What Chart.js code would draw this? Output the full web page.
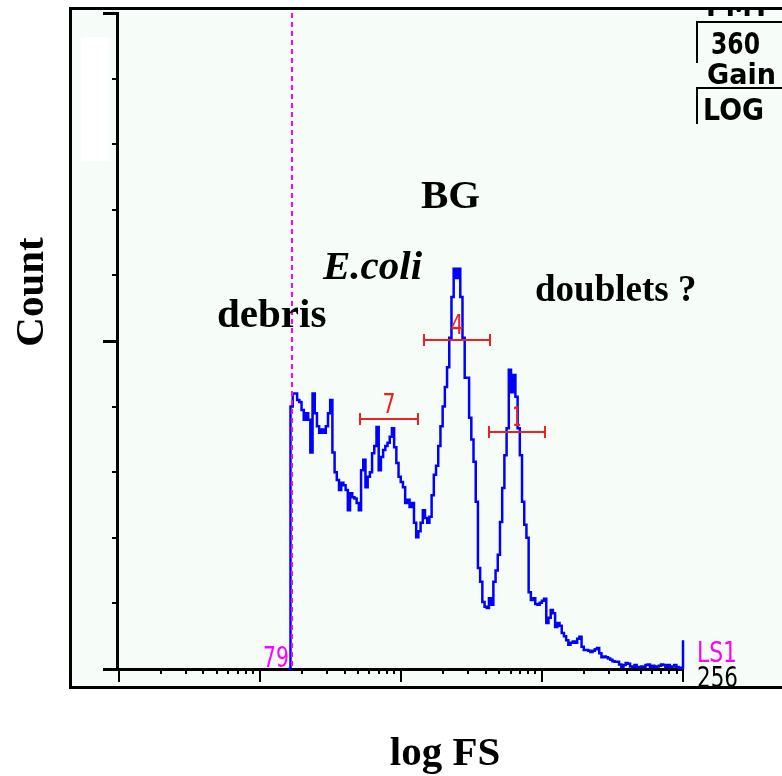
<!DOCTYPE html>
<html><head><meta charset="utf-8">
<script src="https://cdn.jsdelivr.net/npm/chart.js@4.4.1/dist/chart.umd.min.js"></script>
<style>html,body{margin:0;padding:0;background:#fff;}#wrap{width:782px;height:776px;position:relative;overflow:hidden;}</style>
</head><body><div id="wrap"><canvas id="c" width="782" height="776"></canvas></div>
<script>
// ---- data (log FS channel 0..256, relative count) ----
const channels = [77,78,79,80,81,82,83,84,85,86,87,88,89,90,91,92,93,94,95,96,97,98,99,100,
101,102,103,104,105,106,107,108,109,110,111,112,113,114,115,116,117,118,119,120,
121,122,123,124,125,126,127,128,129,130,131,132,133,134,135,136,137,138,139,140,
141,142,143,144,145,146,147,148,149,150,151,152,153,154,155,156,157,158,159,160,
161,162,163,164,165,166,167,168,169,170,171,172,173,174,175,176,177,178,179,180,
181,182,183,184,185,186,187,188,189,190,191,192,193,194,195,196,197,198,199,200,
201,202,203,204,205,206,207,208,209,210,211,212,213,214,215,216,217,218,219,220,
221,222,223,224,225,226,227,228,229,230,231,232,233,234,235,236,237,238,239,240,
241,242,243,244,245,246,247,248,249,250,251,252,253,254,255,256];
const counts = [0,40,42,42,41,40.7,39.5,38,39,38,33,42,39,37,36,36.5,36,37,39,41,33,30,28.8,27.3,
28.4,28,27.3,24.2,26.8,26.2,26,25.3,24.2,30.3,31.9,27.7,29.3,30,32.9,34,36.9,30.3,32.3,33.4,
34,34.5,35.4,36.7,33.8,31.4,29.3,28.5,27.7,25.3,25.8,24.7,25.3,22.3,20.1,21,22.3,24.2,23,22.3,
23.2,26.5,29.6,31,34,37,40,43,46,50.5,56.7,61,59.6,61,56.7,50.5,44.4,44.4,38.3,35,
31.6,25.5,15.4,13.3,10.2,9.5,9.3,10.8,9.8,13.3,15,17.4,22.4,27.6,32.6,36.7,45.6,42.2,44.8,41.5,
36.7,32.6,25.5,22,20,11.7,10.5,10.8,9.9,9.8,10.1,10.4,10.7,7,7.8,9,8.5,6.4,7,6.6,
5.5,5,4.4,3.7,4,4.2,4,4.6,4.9,3.4,2.9,2.9,2.8,2.6,2.8,3,3.2,2.4,1.8,1.9,
1.8,1.6,1.4,1.2,1.1,1.1,0.7,0.3,0.6,0.9,0.8,0.4,0.3,0.6,0.3,0.3,0.4,0.3,0.6,0.7,
0.3,0.5,0.3,0.4,0.5,0.7,0.6,0.3,0.6,0.3,0.4,0.6,0.3,0.15,0.2,4.4];
// region gates (channel range, level) and their labels
const gateStart = [109.5, 138.5, 168];
const gateEnd   = [135.8, 168.5, 193.4];
const gateLevel = [38.1, 50.2, 36.1];
const gateLabels = ['7', '4', '1'];
// cursor
const cursorChannel = 79;
const cursorLabel = '79';
// axes ticks
const xDecades = [0, 64, 128, 192, 256];
const xMinorFactors = [2,3,4,5,6,7,8,9];
const yTicks = [0,10,20,30,40,50,60,70,80,90,100];
const yMajor = [0,50,100];
// text
const peakLabels = ['BG', 'E.coli', 'debris', 'doublets ?'];
const xTitle = 'log FS';
const yTitle = 'Count';
const infoTexts = ['PMT', '360', 'Gain', 'LOG'];
const rangeLabel = 'LS1';
const maxLabel = '256';

function fitText(ctx, text, x, baseline, width, font, align) {
  ctx.save();
  ctx.font = font;
  const w = ctx.measureText(text).width;
  const s = width / w;
  ctx.translate(x, baseline);
  ctx.scale(s, 1);
  ctx.textAlign = 'left';
  ctx.textBaseline = 'alphabetic';
  let ox = 0;
  if (align === 'center') ox = -w / 2;
  else if (align === 'right') ox = -w;
  ctx.fillText(text, ox, 0);
  ctx.restore();
}

const framePlugin = {
  id: 'frame',
  beforeDraw(chart) {
    const ctx = chart.ctx;
    const xs = chart.scales.x, ys = chart.scales.y;
    ctx.save();
    ctx.fillStyle = '#ffffff';
    ctx.fillRect(0, 0, 782, 776);
    ctx.fillStyle = '#f6fcf7';
    ctx.fillRect(71, 9, 720, 678);
    ctx.fillStyle = '#ffffff';
    ctx.fillRect(81, 37, 28, 124);
    ctx.strokeStyle = '#000';
    ctx.lineWidth = 3;
    ctx.strokeRect(70.5, 8.5, 800, 679);
    // y axis
    ctx.fillStyle = '#000';
    ctx.fillRect(116, 12, 3, 659);
    yTicks.forEach(v => {
      const py = Math.round(ys.getPixelForValue(v));
      if (yMajor.includes(v)) ctx.fillRect(103, py - 1, 14, 3);
      else ctx.fillRect(112, py - 1, 5, 2);
    });
    // x axis
    ctx.fillRect(103, 668, 581, 3);
    xDecades.forEach((d, i) => {
      const px = xs.getPixelForValue(d);
      ctx.fillRect(Math.round(px) - 1, 669, 2, 13);
      if (i < xDecades.length - 1) {
        xMinorFactors.forEach(k => {
          const p = xs.getPixelForValue(d + (xDecades[i+1]-d) * Math.log10(k));
          ctx.fillRect(Math.round(p) - 1, 669, 2, 5);
        });
      }
    });
    ctx.restore();
  },
  afterDatasetsDraw(chart) {
    const ctx = chart.ctx;
    const xs = chart.scales.x, ys = chart.scales.y;
    ctx.save();
    // cursor
    const cx = Math.round(xs.getPixelForValue(cursorChannel)) - 1;
    ctx.strokeStyle = '#ff00ff';
    ctx.lineWidth = 2;
    ctx.setLineDash([5, 4]);
    ctx.beginPath();
    ctx.moveTo(cx, ys.getPixelForValue(100));
    ctx.lineTo(cx, ys.getPixelForValue(0));
    ctx.stroke();
    ctx.setLineDash([]);
    ctx.fillStyle = '#ff00ff';
    fitText(ctx, cursorLabel, cx - 3, 667, 26, '29px "DejaVu Sans"', 'right');
    // gates
    ctx.strokeStyle = '#f02020';
    ctx.fillStyle = '#f02020';
    ctx.lineWidth = 2;
    gateStart.forEach((s, i) => {
      const x1 = Math.round(xs.getPixelForValue(s)), x2 = Math.round(xs.getPixelForValue(gateEnd[i]));
      const y = Math.round(ys.getPixelForValue(gateLevel[i]));
      ctx.beginPath();
      ctx.moveTo(x1, y); ctx.lineTo(x2, y);
      ctx.moveTo(x1, y - 6); ctx.lineTo(x1, y + 6);
      ctx.moveTo(x2, y - 6); ctx.lineTo(x2, y + 6);
      ctx.stroke();
      const w = gateLabels[i] === '1' ? 9 : 13;
      fitText(ctx, gateLabels[i], (x1 + x2) / 2, y - 6, w, '27px "DejaVu Sans"', 'center');
    });
    // right labels
    ctx.fillStyle = '#ff00ff';
    fitText(ctx, rangeLabel, 697, 662, 40, '29px "DejaVu Sans"', 'left');
    ctx.fillStyle = '#000';
    fitText(ctx, maxLabel, 697, 687, 41, '29px "DejaVu Sans"', 'left');
    // info box
    ctx.fillStyle = '#000';
    ctx.save();
    ctx.beginPath(); ctx.rect(0, 10, 782, 20); ctx.clip();
    fitText(ctx, infoTexts[0], 706, 16, 64, 'bold 28px "DejaVu Sans"', 'left');
    ctx.restore();
    ctx.fillRect(696, 21, 86, 2);
    ctx.fillRect(696, 21, 2, 42);
    fitText(ctx, infoTexts[1], 711, 54, 49, 'bold 30px "DejaVu Sans"', 'left');
    fitText(ctx, infoTexts[2], 707, 84, 69, 'bold 29px "DejaVu Sans"', 'left');
    ctx.fillRect(696, 87, 86, 2);
    ctx.fillRect(696, 87, 2, 37);
    fitText(ctx, infoTexts[3], 703, 120, 61, 'bold 30px "DejaVu Sans"', 'left');
    // annotations
    ctx.fillStyle = '#000';
    ctx.textBaseline = 'alphabetic';
    ctx.textAlign = 'left';
    ctx.font = 'bold 41px "Liberation Serif"';
    ctx.fillText(peakLabels[0], 421, 208);
    ctx.font = 'italic bold 41px "Liberation Serif"';
    ctx.fillText(peakLabels[1], 323, 279);
    ctx.font = 'bold 41px "Liberation Serif"';
    ctx.fillText(peakLabels[2], 217, 327);
    ctx.font = 'bold 37px "Liberation Serif"';
    ctx.fillText(peakLabels[3], 535, 301);
    ctx.font = 'bold 41px "Liberation Serif"';
    ctx.textAlign = 'center';
    ctx.fillText(xTitle, 445, 765);
    ctx.save();
    ctx.translate(43, 292);
    ctx.rotate(-Math.PI / 2);
    ctx.fillText(yTitle, 0, 0);
    ctx.restore();
    ctx.restore();
  }
};

new Chart(document.getElementById('c'), {
  type: 'line',
  data: {
    datasets: [{
      data: channels.map((c, i) => ({ x: c, y: counts[i] })),
      borderColor: '#0000ff',
      borderWidth: 2.5,
      pointRadius: 0,
      stepped: 'before',
      fill: false,
      clip: 4
    }]
  },
  options: {
    responsive: false,
    animation: false,
    events: [],
    layout: { padding: { left: 118.5, right: 99, top: 13, bottom: 107 } },
    plugins: { legend: { display: false }, tooltip: { enabled: false } },
    scales: {
      x: { type: 'linear', min: 0, max: 256, display: false },
      y: { type: 'linear', min: 0, max: 100, display: false }
    }
  },
  plugins: [framePlugin]
});
</script>
</body></html>
